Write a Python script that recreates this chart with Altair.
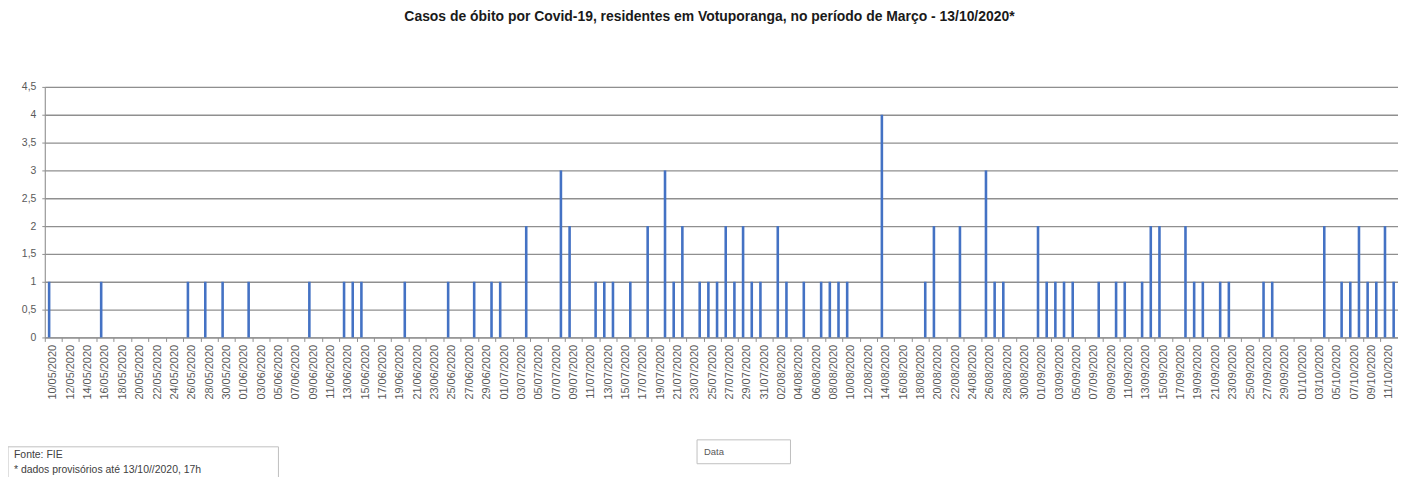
import altair as alt
import pandas as pd

# ---- data ----
start_date = "2020-05-10"
end_date = "2020-10-12"

death_dates = [
    "10/05/2020", "16/05/2020", "26/05/2020", "28/05/2020", "30/05/2020",
    "02/06/2020", "09/06/2020", "13/06/2020", "14/06/2020", "15/06/2020",
    "20/06/2020", "25/06/2020", "28/06/2020", "30/06/2020",
    "01/07/2020", "04/07/2020", "08/07/2020", "09/07/2020", "12/07/2020",
    "13/07/2020", "14/07/2020", "16/07/2020", "18/07/2020", "20/07/2020",
    "21/07/2020", "22/07/2020", "24/07/2020", "25/07/2020", "26/07/2020",
    "27/07/2020", "28/07/2020", "29/07/2020", "30/07/2020", "31/07/2020",
    "02/08/2020", "03/08/2020", "05/08/2020", "07/08/2020", "08/08/2020",
    "09/08/2020", "10/08/2020", "14/08/2020", "19/08/2020", "20/08/2020",
    "23/08/2020", "26/08/2020", "27/08/2020", "28/08/2020",
    "01/09/2020", "02/09/2020", "03/09/2020", "04/09/2020", "05/09/2020",
    "08/09/2020", "10/09/2020", "11/09/2020", "13/09/2020", "14/09/2020",
    "15/09/2020", "18/09/2020", "19/09/2020", "20/09/2020", "22/09/2020",
    "23/09/2020", "27/09/2020", "28/09/2020",
    "04/10/2020", "06/10/2020", "07/10/2020", "08/10/2020", "09/10/2020",
    "10/10/2020", "11/10/2020", "12/10/2020",
]
death_counts = [
    1, 1, 1, 1, 1,
    1, 1, 1, 1, 1,
    1, 1, 1, 1,
    1, 2, 3, 2, 1,
    1, 1, 1, 2, 3,
    1, 2, 1, 1, 1,
    2, 1, 2, 1, 1,
    2, 1, 1, 1, 1,
    1, 1, 4, 1, 2,
    2, 3, 1, 1,
    2, 1, 1, 1, 1,
    1, 1, 1, 1, 2,
    2, 2, 1, 1, 1,
    1, 1, 1,
    2, 1, 1, 2, 1,
    1, 2, 1,
]
y_ticks = [0, 0.5, 1, 1.5, 2, 2.5, 3, 3.5, 4, 4.5]

title_text = "Casos de óbito por Covid-19, residentes em Votuporanga, no período de Março - 13/10/2020*"
note_lines = ["Fonte: FIE", "* dados provisórios até  13/10//2020, 17h"]
x_title = "Data"

# ---- build table ----
all_days = [d.strftime("%d/%m/%Y") for d in pd.date_range(start_date, end_date, freq="D")]
counts = dict(zip(death_dates, death_counts))
df = pd.DataFrame({"Data": all_days, "Casos": [counts.get(d, 0) for d in all_days]})
tick_labels = all_days[::2]

W, H = 1361, 252
step = W / len(all_days)
grey = "#8f8f8f"
font = "Liberation Sans"

bars = alt.Chart(df).mark_bar(size=2.6, color="#4472C4").encode(
    x=alt.X(
        "Data:N",
        sort=all_days,
        scale=alt.Scale(paddingInner=0, paddingOuter=0),
        axis=alt.Axis(
            title=None,
            values=tick_labels,
            labelAngle=270,
            labelAlign="right",
            labelBaseline="middle",
            labelFontSize=11,
            labelColor="#595959",
            labelFont=font,
            labelPadding=3,
            labelOverlap=False,
            bandPosition=0,
            labelOffset=step / 2,
            tickSize=4,
            tickColor=grey,
            domainColor=grey,
            grid=False,
        ),
    ),
    y=alt.Y(
        "Casos:Q",
        scale=alt.Scale(domain=[0, 4.5], nice=False),
        axis=alt.Axis(
            title=None,
            values=y_ticks,
            labelExpr="replace(format(datum.value, '~g'), '.', ',')",
            labelFontSize=10.5,
            labelColor="#595959",
            labelFont=font,
            labelPadding=6,
            tickSize=3,
            tickColor=grey,
            domainColor=grey,
            gridColor=grey,
            gridWidth=1.3,
            gridOpacity=1,
        ),
    ),
)

note_df = pd.DataFrame({"t": note_lines, "yy": [370, 385]})
note_box = alt.Chart(pd.DataFrame({"a": [0]})).mark_rect(
    fill="white", stroke="#c0c0c0", strokeWidth=1
).encode(x=alt.value(-37), x2=alt.value(235), y=alt.value(362), y2=alt.value(420))
note_text = alt.Chart(note_df).mark_text(
    align="left", baseline="middle", fontSize=10.5, font=font, color="#404040"
).encode(text="t:N", x=alt.value(-31), y=alt.Y("yy:Q", scale=None))

data_box = alt.Chart(pd.DataFrame({"a": [0]})).mark_rect(
    fill="white", stroke="#c0c0c0", strokeWidth=1
).encode(x=alt.value(656), x2=alt.value(750), y=alt.value(355), y2=alt.value(379))
data_text = alt.Chart(pd.DataFrame({"t": [x_title]})).mark_text(
    align="left", baseline="middle", fontSize=9.5, font=font, color="#595959"
).encode(text="t:N", x=alt.value(663), y=alt.value(367))

chart = alt.layer(bars, note_box, note_text, data_box, data_text).properties(
    width=W,
    height=H,
    autosize=alt.AutoSizeParams(type="none"),
    padding={"left": 37, "top": 78, "right": 0, "bottom": 139},
    title=alt.TitleParams(
        title_text,
        fontSize=14,
        font=font,
        fontWeight="bold",
        color="#1a1a1a",
        offset=58,
        dx=-12,
        anchor="middle",
    ),
).configure_view(stroke=None).configure(background="white")

chart.save("out.html", embed_options={"renderer": "svg", "actions": False})
